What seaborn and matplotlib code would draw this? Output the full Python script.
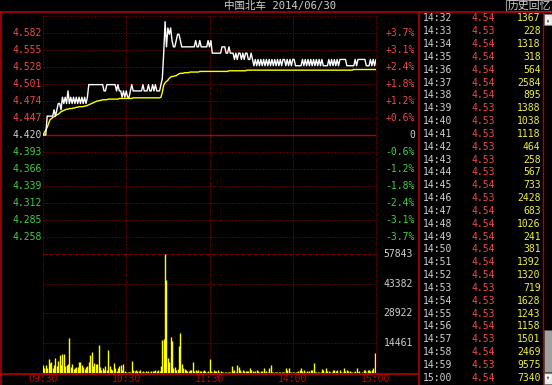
import matplotlib
matplotlib.use('Agg')
import matplotlib.pyplot as plt
import matplotlib.transforms as mtrans
from matplotlib.patches import Rectangle, Polygon
import seaborn as sns
import pandas as pd

# ---------------- data ----------------
title_name = "中国北车"
title_date = "2014/06/30"
panel_title = "历史回忆"
prev_close = 4.42
price_ticks = [4.582, 4.555, 4.528, 4.501, 4.474, 4.447, 4.420, 4.393, 4.366, 4.339, 4.312, 4.285, 4.258]
price_tick_labels = ["4.582", "4.555", "4.528", "4.501", "4.474", "4.447", "4.420",
                     "4.393", "4.366", "4.339", "4.312", "4.285", "4.258"]
pct_labels = ["+3.7%", "+3.1%", "+2.4%", "+1.8%", "+1.2%", "+0.6%", "0",
              "-0.6%", "-1.2%", "-1.8%", "-2.4%", "-3.1%", "-3.7%"]
vol_ticks = [57843, 43382, 28922, 14461]
vol_tick_labels = ["57843", "43382", "28922", "14461"]
time_tick_pos = [0, 60, 120, 180, 240]
time_tick_labels = ["09:30", "10:30", "11:30", "14:00", "15:00"]

price = [
    4.42, 4.42, 4.42, 4.45, 4.45, 4.45, 4.45, 4.45, 4.46, 4.45,
    4.46, 4.47, 4.47, 4.46, 4.48, 4.47, 4.48, 4.47, 4.49, 4.47,
    4.48, 4.47, 4.48, 4.47, 4.48, 4.47, 4.48, 4.47, 4.48, 4.47,
    4.48, 4.47, 4.48, 4.50, 4.50, 4.50, 4.50, 4.50, 4.50, 4.50,
    4.50, 4.50, 4.50, 4.50, 4.49, 4.49, 4.50, 4.50, 4.50, 4.50,
    4.50, 4.50, 4.50, 4.49, 4.50, 4.49, 4.49, 4.48, 4.49, 4.48,
    4.49, 4.48, 4.48, 4.49, 4.50, 4.49, 4.49, 4.49, 4.49, 4.49,
    4.49, 4.49, 4.50, 4.49, 4.49, 4.49, 4.50, 4.49, 4.49, 4.50,
    4.49, 4.50, 4.49, 4.49, 4.49, 4.50, 4.51, 4.55, 4.60, 4.56,
    4.59, 4.58, 4.59, 4.57, 4.56, 4.56, 4.57, 4.58, 4.58, 4.57,
    4.56, 4.56, 4.56, 4.56, 4.56, 4.56, 4.56, 4.56, 4.56, 4.56,
    4.57, 4.56, 4.56, 4.57, 4.56, 4.56, 4.56, 4.56, 4.56, 4.57,
    4.56, 4.57, 4.55, 4.55, 4.55, 4.55, 4.55, 4.55, 4.55, 4.56,
    4.56, 4.56, 4.55, 4.55, 4.56, 4.55, 4.55, 4.55, 4.54, 4.55,
    4.54, 4.55, 4.55, 4.54, 4.55, 4.54, 4.55, 4.55, 4.54, 4.54,
    4.55, 4.54, 4.53, 4.54, 4.53, 4.54, 4.53, 4.54, 4.53, 4.54,
    4.53, 4.54, 4.53, 4.54, 4.53, 4.54, 4.53, 4.54, 4.53, 4.54,
    4.53, 4.54, 4.53, 4.54, 4.54, 4.53, 4.54, 4.53, 4.54, 4.53,
    4.54, 4.54, 4.53, 4.53, 4.53, 4.53, 4.53, 4.54, 4.53, 4.54,
    4.53, 4.54, 4.53, 4.54, 4.53, 4.54, 4.53, 4.54, 4.53, 4.54,
    4.53, 4.54, 4.53, 4.53, 4.53, 4.53, 4.54, 4.53, 4.54, 4.53,
    4.54, 4.53,
    4.54, 4.53, 4.54, 4.54, 4.54, 4.54, 4.54, 4.53, 4.53, 4.53,
    4.53, 4.53, 4.53, 4.54, 4.53, 4.54, 4.54, 4.54, 4.54, 4.54,
    4.54, 4.53, 4.53, 4.53, 4.54, 4.53, 4.54, 4.53, 4.54,
]

avg_price = [
    4.420, 4.424, 4.428, 4.432, 4.438, 4.444, 4.446, 4.448, 4.449, 4.451,
    4.452, 4.453, 4.455, 4.457, 4.458, 4.459, 4.460, 4.461, 4.461, 4.462,
    4.462, 4.462, 4.463, 4.463, 4.464, 4.464, 4.465, 4.465, 4.465, 4.465,
    4.466, 4.466, 4.467, 4.468, 4.469, 4.470, 4.471, 4.472, 4.473, 4.474,
    4.474, 4.475, 4.475, 4.476, 4.476, 4.476, 4.476, 4.477, 4.477, 4.477,
    4.477, 4.477, 4.477, 4.477, 4.477, 4.478, 4.478, 4.478, 4.478, 4.478,
    4.478, 4.478, 4.478, 4.478, 4.478, 4.479, 4.479, 4.479, 4.479, 4.479,
    4.479, 4.479, 4.479, 4.479, 4.479, 4.479, 4.479, 4.479, 4.479, 4.479,
    4.479, 4.479, 4.479, 4.479, 4.479, 4.480, 4.488, 4.499, 4.503, 4.505,
    4.507, 4.510, 4.512, 4.513, 4.513, 4.514, 4.514, 4.516, 4.517, 4.518,
    4.518, 4.518, 4.519, 4.519, 4.519, 4.519, 4.520, 4.520, 4.520, 4.520,
    4.520, 4.520, 4.520, 4.521, 4.521, 4.521, 4.521, 4.521, 4.521, 4.521,
    4.521, 4.521, 4.521, 4.521, 4.521, 4.521, 4.521, 4.521, 4.521, 4.521,
    4.521, 4.521, 4.521, 4.521, 4.522, 4.522, 4.522, 4.522, 4.522, 4.522,
    4.522, 4.522, 4.522, 4.522, 4.522, 4.522, 4.522, 4.523, 4.523, 4.523,
    4.523, 4.523, 4.523, 4.523, 4.523, 4.523, 4.523, 4.523, 4.523, 4.523,
    4.523, 4.523, 4.523, 4.523, 4.523, 4.523, 4.523, 4.523, 4.523, 4.523,
    4.523, 4.523, 4.523, 4.523, 4.523, 4.523, 4.523, 4.523, 4.523, 4.523,
    4.523, 4.523, 4.523, 4.523, 4.523, 4.523, 4.523, 4.523, 4.523, 4.523,
    4.523, 4.523, 4.523, 4.523, 4.523, 4.523, 4.523, 4.523, 4.523, 4.523,
    4.523, 4.523, 4.523, 4.523, 4.523, 4.523, 4.523, 4.523, 4.523, 4.523,
    4.523, 4.523, 4.523, 4.523, 4.523, 4.523, 4.523, 4.523, 4.523, 4.523,
    4.523, 4.523, 4.523, 4.523, 4.524, 4.524, 4.524, 4.524, 4.524, 4.524,
    4.524, 4.524, 4.524, 4.524, 4.524, 4.524, 4.524, 4.524, 4.524, 4.524,
    4.524,
]

volume = [
    4000, 2400, 4000, 2400, 7000, 4900, 5300, 2400, 3700, 7300,
    3600, 6000, 8700, 3900, 9400, 9200, 3600, 4000, 4400, 17200,
    2700, 4400, 1900, 2600, 2700, 3100, 5500, 5500, 4000, 2900,
    1900, 2900, 3600, 5500, 8700, 10000, 3200, 4900, 4400, 4500,
    13400, 2900, 1600, 2600, 1600, 3200, 1600, 11300, 3200, 1900,
    1300, 4900, 2400, 1000, 2600, 3600, 3900, 1600, 4500, 800,
    600, 500, 600, 700, 5700, 1600, 800, 1300, 800, 900,
    1300, 600, 900, 600, 900, 600, 1100, 600, 800, 900,
    900, 1300, 900, 1300, 1100, 3200, 16000, 16500, 57843, 45000,
    7300, 5200, 17500, 15500, 2300, 2800, 1600, 1900, 13100, 19400,
    4400, 2400, 1900, 1600, 1100, 800, 1300, 1300, 5500, 800,
    1300, 1000, 1600, 900, 1100, 800, 1300, 900, 600, 800,
    6800, 800, 600, 1600, 1100, 800, 1300, 600, 1100, 600,
    400, 600, 400, 600, 500, 600, 3400, 1100, 1300, 600,
    4000, 2900, 1600, 600, 1600, 1100, 800, 1100, 1100, 2400,
    1300, 1100, 600, 800, 1300, 1100, 600, 800, 1100, 2400,
    600, 1100, 600, 2400, 4000, 300, 500, 400, 300, 400,
    300, 400, 300, 400, 600, 2400, 1600, 2400, 600, 400,
    300, 400, 300, 400, 900, 1600, 2400, 1100, 1600, 400,
    1100, 400, 900, 1300, 1600, 4900, 400, 300, 400, 300,
    400, 1900, 1600, 400, 2200, 1100, 1100, 400, 600, 1300,
    1600, 1100,
    1367, 228, 1318, 318, 564, 2584, 895, 1388, 1038, 1118,
    464, 258, 567, 733, 2428, 683, 1026, 241, 381, 1392,
    1320, 719, 1628, 1243, 1158, 1501, 2469, 9575, 7340,
]

tick_times = ["14:32", "14:33", "14:34", "14:35", "14:36", "14:37", "14:38", "14:39", "14:40",
              "14:41", "14:42", "14:43", "14:44", "14:45", "14:46", "14:47", "14:48", "14:49",
              "14:50", "14:51", "14:52", "14:53", "14:54", "14:55", "14:56", "14:57", "14:58",
              "14:59", "15:00"]
tick_prices = ["4.54", "4.53", "4.54", "4.54", "4.54", "4.54", "4.54", "4.53", "4.53",
               "4.53", "4.53", "4.53", "4.53", "4.54", "4.53", "4.54", "4.54", "4.54",
               "4.54", "4.54", "4.54", "4.53", "4.53", "4.53", "4.54", "4.53", "4.54",
               "4.53", "4.54"]
tick_vols = ["1367", "228", "1318", "318", "564", "2584", "895", "1388", "1038",
             "1118", "464", "258", "567", "733", "2428", "683", "1026", "241",
             "381", "1392", "1320", "719", "1628", "1243", "1158", "1501", "2469",
             "9575", "7340"]

df = pd.DataFrame({"minute": list(range(len(price))), "price": price,
                   "avg": avg_price, "volume": volume})

# ---------------- styling ----------------
sns.set_style("dark", {"axes.facecolor": "black", "figure.facecolor": "black"})
plt.rcParams['font.family'] = ['DejaVu Sans Mono', 'Noto Sans CJK SC']

RED_SOLID = '#b40000'
RED_DOT = '#a00000'
TXT_RED = '#f04848'
TXT_GREEN = '#40d040'
TXT_WHITE = '#d0d0d0'
YELLOW = '#ffff00'
DOT = (0, (1, 2))
LW = 0.72

W, H = 552, 385
fig = plt.figure(figsize=(W / 100, H / 100), dpi=100, facecolor='black')


def ax_px(x0, y0, x1, y1):
    return fig.add_axes([x0 / W, 1 - y1 / H, (x1 - x0) / W, (y1 - y0) / H])


ov = fig.add_axes([0, 0, 1, 1])
ov.set_xlim(0, W)
ov.set_ylim(H, 0)
ov.axis('off')
ov.set_zorder(0)

pa = ax_px(43, 16, 376, 254)
va = ax_px(43, 254, 376, 373)
for a in (pa, va):
    a.set_facecolor('none')
    a.axis('off')
    a.set_xlim(0, 240)
    a.set_zorder(2)
pa.set_ylim(prev_close - 7 * 0.027, prev_close + 7 * 0.027)
va.set_ylim(0, vol_ticks[0])

# grids
for v in price_ticks + [prev_close + 7 * 0.027, prev_close - 7 * 0.027]:
    if abs(v - prev_close) < 1e-9:
        pa.axhline(v, color=RED_SOLID, lw=1.0, zorder=1)
    else:
        pa.axhline(v, color=RED_DOT, lw=LW, ls=DOT, clip_on=False, zorder=1)
for t in time_tick_pos:
    pa.axvline(t, color=RED_DOT, lw=LW, ls=DOT, clip_on=False, zorder=1)
    va.axvline(t, color=RED_DOT, lw=LW, ls=DOT, clip_on=False, zorder=1)
for v in vol_ticks:
    va.axhline(v, color=RED_DOT, lw=LW, ls=DOT, clip_on=False, zorder=1)

# price and average lines
sns.lineplot(data=df, x="minute", y="avg", ax=pa, color=YELLOW, lw=1.0, legend=False, zorder=3)
sns.lineplot(data=df, x="minute", y="price", ax=pa, color='white', lw=1.0, legend=False, zorder=4)
pa.set_xlim(0, 240)
pa.axis('off')

# volume bars
va.vlines(df["minute"], 0, df["volume"], color=YELLOW, lw=1.0, zorder=3)
va.set_xlim(0, 240)

# frame lines (figure pixel space)
ov.plot([0, W], [11.5, 11.5], color=RED_SOLID, lw=1.2)
ov.plot([1, 1], [11.5, H], color=RED_SOLID, lw=1.2)
ov.plot([0, 419], [373.5, 373.5], color=RED_SOLID, lw=1.2)
ov.plot([419, 419], [11.5, H], color=RED_SOLID, lw=1.2)
ov.plot([543, 543], [11.5, H], color=RED_SOLID, lw=1.0)

# title
ov.text(224, 6, title_name + " " + title_date, color=TXT_WHITE, fontsize=7.6,
        ha='left', va='center')
ov.add_patch(Rectangle((506, 0), 46, 11, facecolor='black', edgecolor='#909090', lw=0.8))
ov.text(529, 5.5, panel_title, color=TXT_WHITE, fontsize=7.8, ha='center', va='center',
        family=['Noto Sans CJK SC'])

# axis labels
tp = mtrans.blended_transform_factory(ov.transData, pa.transData)
tv = mtrans.blended_transform_factory(ov.transData, va.transData)
for v, lab, pl in zip(price_ticks, price_tick_labels, pct_labels):
    if v > prev_close + 1e-9:
        c = TXT_RED
    elif v < prev_close - 1e-9:
        c = TXT_GREEN
    else:
        c = TXT_WHITE
    ov.text(42, v, lab, transform=tp, color=c, fontsize=7, ha='right', va='center')
    ov.text(415, v, pl, transform=tp, color=c, fontsize=7, ha='right', va='center')
for v, lab in zip(vol_ticks, vol_tick_labels):
    ov.text(413, v, lab, transform=tv, color=TXT_WHITE, fontsize=7, ha='right', va='center')

tx = mtrans.blended_transform_factory(va.transData, ov.transData)
for t, lab in zip(time_tick_pos, time_tick_labels):
    ov.text(t, 379.5, lab, transform=tx, color='#c80000', fontsize=7, ha='center', va='center')

# right tick table
for k, (tt, pp, vv) in enumerate(zip(tick_times, tick_prices, tick_vols)):
    y = 18.3 + k * 12.84
    ov.text(423, y, tt, color=TXT_WHITE, fontsize=7, ha='left', va='center')
    ov.text(472, y, pp, color=TXT_RED, fontsize=7, ha='left', va='center')
    ov.text(540.5, y, vv, color='#f0f040', fontsize=7, ha='right', va='center')

# scroll bar
ov.add_patch(Rectangle((544, 14), 8, 11, facecolor='#e8e8e8', edgecolor='#808080', lw=0.5))
ov.add_patch(Polygon([[545.5, 23], [550.5, 23], [548, 17]], closed=True, facecolor='#606060'))
ov.add_patch(Rectangle((544, 330), 8, 42, facecolor='#a0a0a0', edgecolor='#505050', lw=0.5))
ov.add_patch(Rectangle((544, 373), 8, 11, facecolor='#e8e8e8', edgecolor='#808080', lw=0.5))
ov.add_patch(Polygon([[545.5, 376], [550.5, 376], [548, 382]], closed=True, facecolor='#606060'))

fig.savefig('out.png', dpi=100, facecolor='black')
